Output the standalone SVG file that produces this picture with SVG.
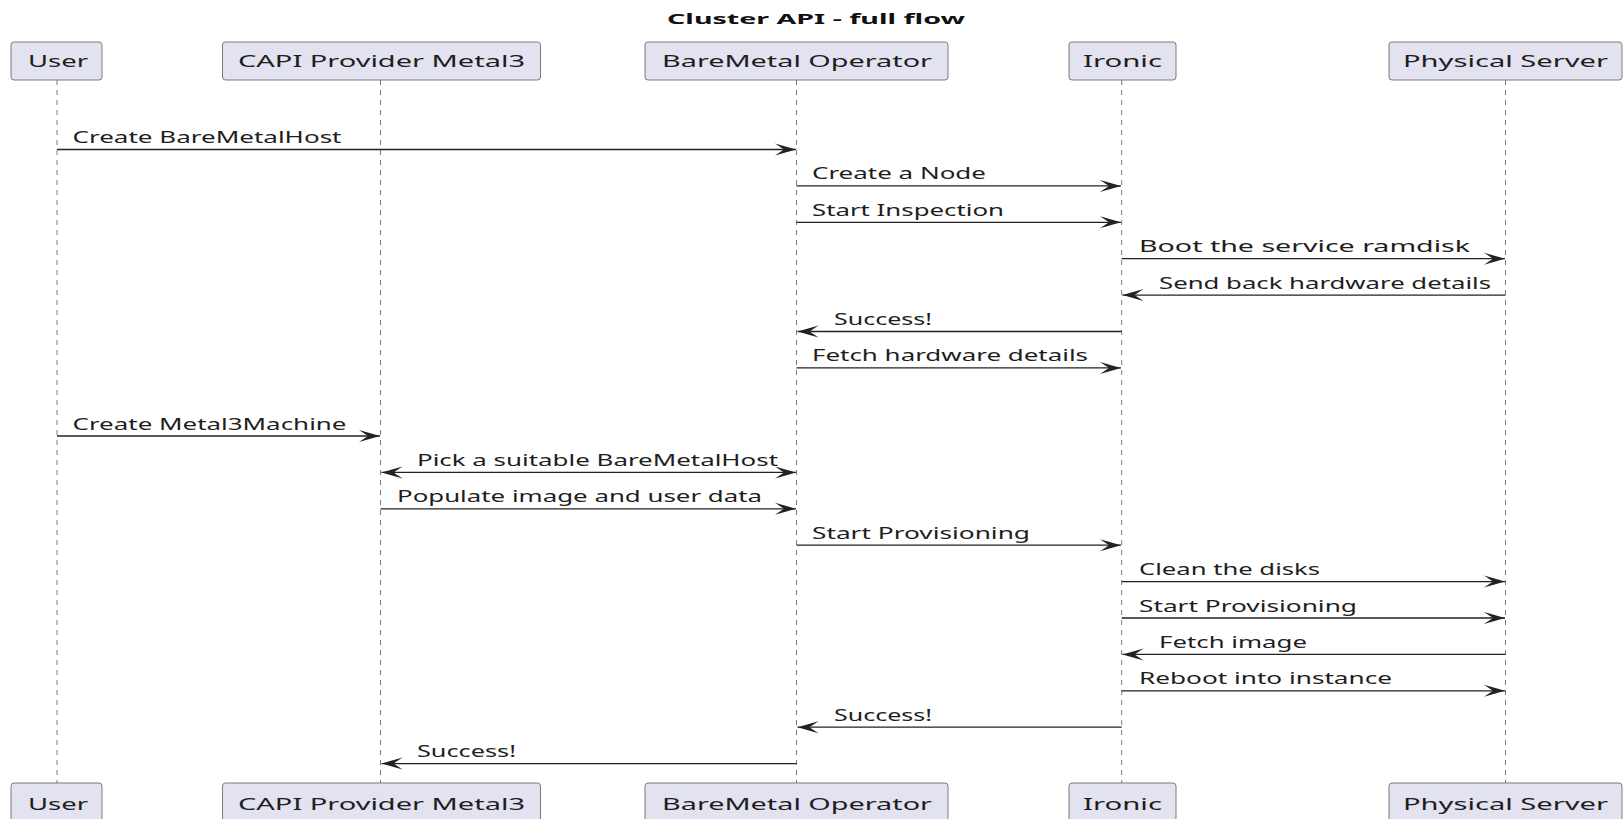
<svg xmlns="http://www.w3.org/2000/svg" width="1624" height="819" viewBox="0 0 1624 819">
<style>
  .bg{fill:#ffffff}
  .box{fill:#E2E2F0;stroke:#7a7a7a;stroke-width:1}
  .pt{font-family:"Noto Sans","Open Sans","DejaVu Sans",sans-serif;font-size:15.5px;fill:#1e1e1e}
  .title{font-family:"Noto Sans","Open Sans","DejaVu Sans",sans-serif;font-size:15px;font-weight:bold;fill:#111111}
  .life{stroke:#7a7a7a;stroke-width:1;stroke-dasharray:5,5;fill:none}
  .msg{stroke:#222222;stroke-width:1.3;fill:none}
  .lbl{font-family:"Noto Sans","Open Sans","DejaVu Sans",sans-serif;font-size:15.5px;fill:#1e1e1e}
</style>
<defs>
  <marker id="ah" markerUnits="userSpaceOnUse" viewBox="-23 -7 24 14" refX="0" refY="0" markerWidth="24" markerHeight="14" orient="auto-start-reverse">
    <path d="M0,0 L-21,-6 L-12,0 L-21,6 Z" fill="#222222"/>
  </marker>
</defs>
<rect class="bg" x="0" y="0" width="1624" height="819"/>
<text class="title" x="667" y="24" textLength="298" lengthAdjust="spacingAndGlyphs">Cluster API - full flow</text>

<g id="lifelines">
  <line class="life" x1="57" y1="80" x2="57" y2="783"/>
  <line class="life" x1="380.5" y1="80" x2="380.5" y2="783"/>
  <line class="life" x1="796.5" y1="80" x2="796.5" y2="783"/>
  <line class="life" x1="1121.7" y1="80" x2="1121.7" y2="783"/>
  <line class="life" x1="1505.5" y1="80" x2="1505.5" y2="783"/>
</g>

<g id="user">
  <rect class="box" x="11" y="42" width="91" height="38" rx="3"/>
  <text class="pt" x="28" y="67" textLength="60" lengthAdjust="spacingAndGlyphs">User</text>
  <rect class="box" x="11" y="783" width="91" height="38" rx="3"/>
  <text class="pt" x="28" y="810" textLength="60" lengthAdjust="spacingAndGlyphs">User</text>
</g>
<g id="capi">
  <rect class="box" x="222.5" y="42" width="318" height="38" rx="3"/>
  <text class="pt" x="238" y="67" textLength="287" lengthAdjust="spacingAndGlyphs">CAPI Provider Metal3</text>
  <rect class="box" x="222.5" y="783" width="318" height="38" rx="3"/>
  <text class="pt" x="238" y="810" textLength="287" lengthAdjust="spacingAndGlyphs">CAPI Provider Metal3</text>
</g>
<g id="bmo">
  <rect class="box" x="645" y="42" width="303" height="38" rx="3"/>
  <text class="pt" x="662" y="67" textLength="270" lengthAdjust="spacingAndGlyphs">BareMetal Operator</text>
  <rect class="box" x="645" y="783" width="303" height="38" rx="3"/>
  <text class="pt" x="662" y="810" textLength="270" lengthAdjust="spacingAndGlyphs">BareMetal Operator</text>
</g>
<g id="ironic">
  <rect class="box" x="1069" y="42" width="107" height="38" rx="3"/>
  <text class="pt" x="1083" y="67" textLength="79" lengthAdjust="spacingAndGlyphs">Ironic</text>
  <rect class="box" x="1069" y="783" width="107" height="38" rx="3"/>
  <text class="pt" x="1083" y="810" textLength="79" lengthAdjust="spacingAndGlyphs">Ironic</text>
</g>
<g id="physical">
  <rect class="box" x="1389" y="42" width="233" height="38" rx="3"/>
  <text class="pt" x="1403" y="67" textLength="205" lengthAdjust="spacingAndGlyphs">Physical Server</text>
  <rect class="box" x="1389" y="783" width="233" height="38" rx="3"/>
  <text class="pt" x="1403" y="810" textLength="205" lengthAdjust="spacingAndGlyphs">Physical Server</text>
</g>

<g id="connectors">
  <line class="msg" x1="57" y1="149.5" x2="796" y2="149.5" marker-end="url(#ah)"/>
  <text class="lbl" x="72.5" y="143" textLength="269" lengthAdjust="spacingAndGlyphs">Create BareMetalHost</text>

  <line class="msg" x1="796.5" y1="185.9" x2="1121" y2="185.9" marker-end="url(#ah)"/>
  <text class="lbl" x="812" y="179.4" textLength="174" lengthAdjust="spacingAndGlyphs">Create a Node</text>

  <line class="msg" x1="796.5" y1="222.3" x2="1121" y2="222.3" marker-end="url(#ah)"/>
  <text class="lbl" x="812" y="215.8" textLength="192" lengthAdjust="spacingAndGlyphs">Start Inspection</text>

  <line class="msg" x1="1121.7" y1="258.7" x2="1505" y2="258.7" marker-end="url(#ah)"/>
  <text class="lbl" x="1139" y="252.2" textLength="331" lengthAdjust="spacingAndGlyphs">Boot the service ramdisk</text>

  <line class="msg" x1="1505.5" y1="295.1" x2="1122.5" y2="295.1" marker-end="url(#ah)"/>
  <text class="lbl" x="1159" y="288.6" textLength="332" lengthAdjust="spacingAndGlyphs">Send back hardware details</text>

  <line class="msg" x1="1121.7" y1="331.5" x2="797.5" y2="331.5" marker-end="url(#ah)"/>
  <text class="lbl" x="834" y="325" textLength="98" lengthAdjust="spacingAndGlyphs">Success!</text>

  <line class="msg" x1="796.5" y1="367.9" x2="1121" y2="367.9" marker-end="url(#ah)"/>
  <text class="lbl" x="812" y="361.4" textLength="276" lengthAdjust="spacingAndGlyphs">Fetch hardware details</text>

  <line class="msg" x1="57" y1="436" x2="380" y2="436" marker-end="url(#ah)"/>
  <text class="lbl" x="72.5" y="429.5" textLength="274" lengthAdjust="spacingAndGlyphs">Create Metal3Machine</text>

  <line class="msg" x1="381.5" y1="472.4" x2="796" y2="472.4" marker-start="url(#ah)" marker-end="url(#ah)"/>
  <text class="lbl" x="417" y="465.9" textLength="361" lengthAdjust="spacingAndGlyphs">Pick a suitable BareMetalHost</text>

  <line class="msg" x1="380.5" y1="508.8" x2="796" y2="508.8" marker-end="url(#ah)"/>
  <text class="lbl" x="397" y="502.3" textLength="365" lengthAdjust="spacingAndGlyphs">Populate image and user data</text>

  <line class="msg" x1="796.5" y1="545.2" x2="1121" y2="545.2" marker-end="url(#ah)"/>
  <text class="lbl" x="812" y="538.7" textLength="218" lengthAdjust="spacingAndGlyphs">Start Provisioning</text>

  <line class="msg" x1="1121.7" y1="581.6" x2="1505" y2="581.6" marker-end="url(#ah)"/>
  <text class="lbl" x="1139" y="575.1" textLength="181" lengthAdjust="spacingAndGlyphs">Clean the disks</text>

  <line class="msg" x1="1121.7" y1="618" x2="1505" y2="618" marker-end="url(#ah)"/>
  <text class="lbl" x="1139" y="611.5" textLength="218" lengthAdjust="spacingAndGlyphs">Start Provisioning</text>

  <line class="msg" x1="1505.5" y1="654.4" x2="1122.5" y2="654.4" marker-end="url(#ah)"/>
  <text class="lbl" x="1159" y="647.9" textLength="148" lengthAdjust="spacingAndGlyphs">Fetch image</text>

  <line class="msg" x1="1121.7" y1="690.8" x2="1505" y2="690.8" marker-end="url(#ah)"/>
  <text class="lbl" x="1139" y="684.3" textLength="253" lengthAdjust="spacingAndGlyphs">Reboot into instance</text>

  <line class="msg" x1="1121.7" y1="727.2" x2="797.5" y2="727.2" marker-end="url(#ah)"/>
  <text class="lbl" x="834" y="720.7" textLength="98" lengthAdjust="spacingAndGlyphs">Success!</text>

  <line class="msg" x1="796.5" y1="763.6" x2="381.5" y2="763.6" marker-end="url(#ah)"/>
  <text class="lbl" x="417" y="757.1" textLength="99" lengthAdjust="spacingAndGlyphs">Success!</text>
</g>
</svg>
